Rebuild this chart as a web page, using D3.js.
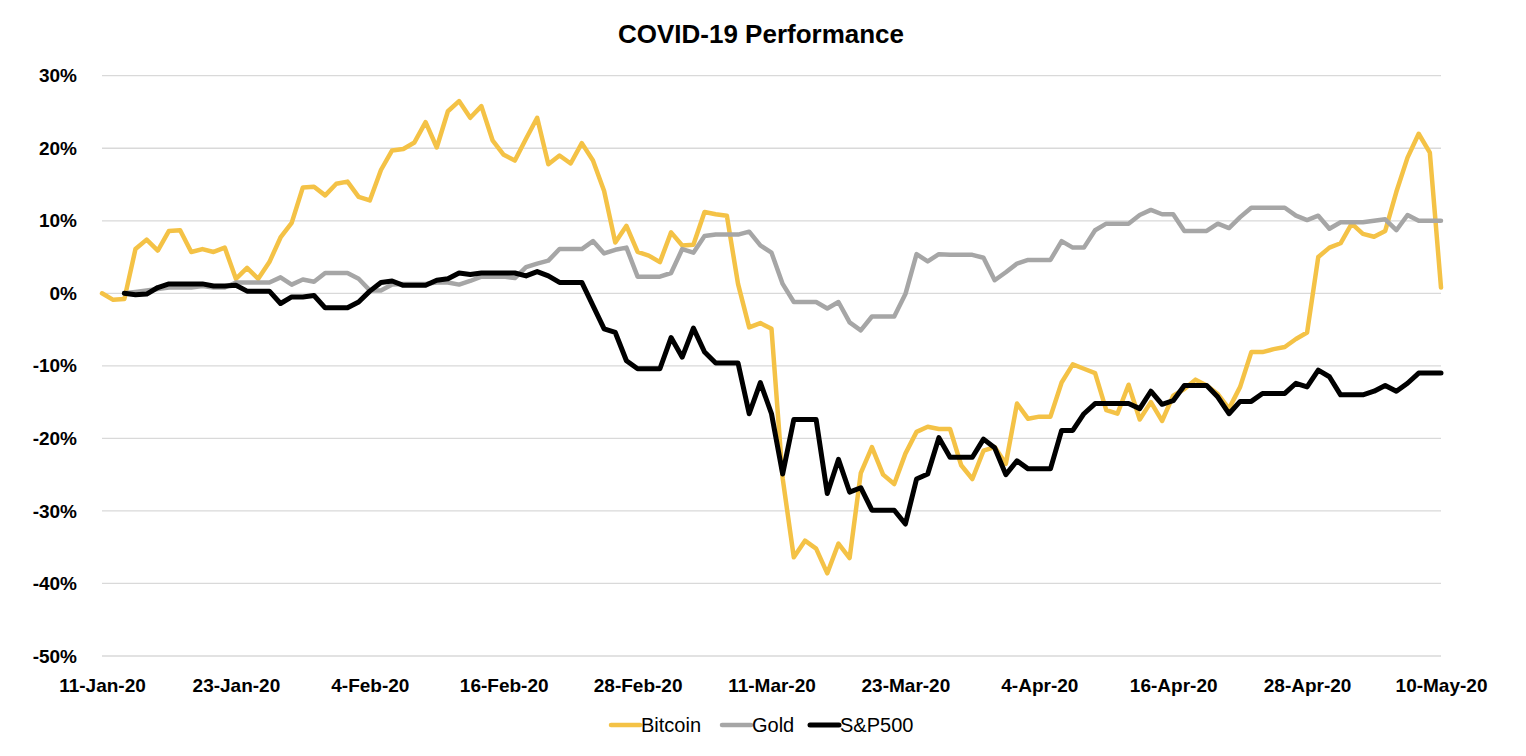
<!DOCTYPE html>
<html>
<head>
<meta charset="utf-8">
<script src="https://cdn.jsdelivr.net/npm/d3@7"></script>
<style>
  html, body { margin: 0; padding: 0; background: #fff; }
  svg { display: block; font-family: "Liberation Sans", Arial, sans-serif; }
</style>
</head>
<body>
<svg id="chart" width="1526" height="756"></svg>
<script>
// ---- Data ----
const startDate = "2020-01-11";
const dayCount = 121; // 11-Jan-20 .. 10-May-20, daily
const xTickIndex = [0, 12, 24, 36, 48, 60, 72, 84, 96, 108, 120];
const xTickLabels = ["11-Jan-20", "23-Jan-20", "4-Feb-20", "16-Feb-20", "28-Feb-20",
  "11-Mar-20", "23-Mar-20", "4-Apr-20", "16-Apr-20", "28-Apr-20", "10-May-20"];
const yTicks = [-50, -40, -30, -20, -10, 0, 10, 20, 30];
const seriesNames = ["Bitcoin", "Gold", "S&P500"];

// values in %
const bitcoin = [
  0, -0.9, -0.8, 6.1, 7.4, 5.9, 8.6, 8.7, 5.7, 6.1,
  5.7, 6.3, 2.0, 3.5, 2.0, 4.3, 7.7, 9.7, 14.6, 14.7,
  13.5, 15.1, 15.4, 13.3, 12.8, 17.0, 19.7, 19.9, 20.8, 23.6,
  20.1, 25.1, 26.5, 24.2, 25.8, 21.1, 19.1, 18.3, 21.3, 24.2,
  17.8, 19.0, 17.9, 20.7, 18.3, 14.1, 7.0, 9.3, 5.7, 5.2,
  4.3, 8.4, 6.6, 6.7, 11.2, 10.9, 10.7, 1.3, -4.7, -4.1,
  -4.9, -25.5, -36.4, -34.1, -35.2, -38.6, -34.5, -36.5, -24.8, -21.2,
  -25.0, -26.3, -22.1, -19.1, -18.4, -18.7, -18.7, -23.7, -25.6, -21.7,
  -21.2, -23.5, -15.2, -17.3, -17.0, -17.0, -12.3, -9.8, -10.4, -11.0,
  -16.1, -16.6, -12.6, -17.4, -15.0, -17.6, -14.1, -13.2, -11.9, -12.7,
  -13.9, -15.9, -12.9, -8.1, -8.1, -7.7, -7.4, -6.3, -5.4, 5.0,
  6.3, 6.9, 9.6, 8.2, 7.8, 8.6, 14.0, 18.7, 22.0, 19.4,
  0.8
];
const gold = [
  null, null, 0.0, 0.2, 0.4, 0.6, 0.8, 0.8, 0.8, 1.0,
  0.8, 0.8, 1.5, 1.5, 1.5, 1.5, 2.2, 1.2, 1.9, 1.6,
  2.8, 2.8, 2.8, 2.0, 0.4, 0.4, 1.2, 1.3, 1.3, 1.3,
  1.5, 1.5, 1.2, 1.7, 2.3, 2.3, 2.3, 2.1, 3.6, 4.1,
  4.5, 6.1, 6.1, 6.1, 7.2, 5.5, 6.0, 6.3, 2.3, 2.3,
  2.3, 2.8, 6.1, 5.6, 7.9, 8.1, 8.1, 8.1, 8.5, 6.6,
  5.6, 1.3, -1.2, -1.2, -1.2, -2.1, -1.2, -4.0, -5.1, -3.2,
  -3.2, -3.2, -0.1, 5.4, 4.4, 5.4, 5.3, 5.3, 5.3, 4.9,
  1.8, 2.9, 4.1, 4.6, 4.6, 4.6, 7.2, 6.3, 6.3, 8.7,
  9.6, 9.6, 9.6, 10.8, 11.5, 10.9, 10.9, 8.6, 8.6, 8.6,
  9.6, 9.0, 10.5, 11.8, 11.8, 11.8, 11.8, 10.7, 10.1, 10.7,
  8.9, 9.8, 9.8, 9.8, 10.0, 10.2, 8.7, 10.8, 10.0, 10.0,
  10.0
];
const sp500 = [
  null, null, 0.0, -0.2, -0.1, 0.8, 1.3, 1.3, 1.3, 1.3,
  1.0, 1.0, 1.1, 0.3, 0.3, 0.3, -1.4, -0.5, -0.5, -0.3,
  -2.0, -2.0, -2.0, -1.2, 0.3, 1.5, 1.7, 1.1, 1.1, 1.1,
  1.8, 2.0, 2.8, 2.6, 2.8, 2.8, 2.8, 2.8, 2.4, 3.0,
  2.4, 1.5, 1.5, 1.5, -1.7, -4.9, -5.4, -9.3, -10.4, -10.4,
  -10.4, -6.1, -8.8, -4.8, -8.1, -9.6, -9.6, -9.6, -16.6, -12.3,
  -16.6, -24.9, -17.4, -17.4, -17.4, -27.6, -22.9, -27.4, -26.8, -29.9,
  -29.9, -29.9, -31.8, -25.6, -24.9, -19.9, -22.6, -22.6, -22.6, -20.1,
  -21.3, -25.0, -23.1, -24.2, -24.2, -24.2, -18.9, -18.9, -16.6, -15.2,
  -15.2, -15.2, -15.2, -15.9, -13.5, -15.3, -14.8, -12.7, -12.7, -12.7,
  -14.3, -16.6, -14.9, -14.9, -13.8, -13.8, -13.8, -12.4, -12.9, -10.6,
  -11.5, -14.0, -14.0, -14.0, -13.5, -12.7, -13.5, -12.4, -11.0, -11.0,
  -11.0
];

// ---- Layout / styles ----
const colors = { "Bitcoin": "#F4C246", "Gold": "#A6A6A6", "S&P500": "#000000" };
const widths = { "Bitcoin": 4.5, "Gold": 4.5, "S&P500": 5 };
const plot = { left: 102, right: 1441, top: 75.7, bottom: 656 };

const svg = d3.select("#chart");

const x = d3.scaleLinear().domain([0, dayCount - 1]).range([plot.left, plot.right]);
const y = d3.scaleLinear().domain([-50, 30]).range([plot.bottom, plot.top]);

// gridlines
svg.append("g")
  .selectAll("line")
  .data(yTicks)
  .join("line")
  .attr("x1", plot.left).attr("x2", plot.right)
  .attr("y1", d => y(d)).attr("y2", d => y(d))
  .attr("stroke", "#D9D9D9").attr("stroke-width", 1.3);

// y axis
const yAxis = svg.append("g")
  .attr("transform", `translate(${plot.left},0)`)
  .call(d3.axisLeft(y).tickValues(yTicks).tickSize(0).tickPadding(25).tickFormat(d => d + "%"));
yAxis.select(".domain").remove();
yAxis.selectAll("text")
  .attr("font-family", "'Liberation Sans', Arial, sans-serif")
  .attr("font-size", 19).attr("font-weight", "bold").attr("fill", "#000");

// x axis
const xAxis = svg.append("g")
  .attr("transform", `translate(0,${plot.bottom})`)
  .call(d3.axisBottom(x).tickValues(xTickIndex).tickSize(0).tickPadding(23)
    .tickFormat((d, i) => xTickLabels[i]));
xAxis.select(".domain").remove();
xAxis.selectAll("text")
  .attr("font-family", "'Liberation Sans', Arial, sans-serif")
  .attr("font-size", 19).attr("font-weight", "bold").attr("fill", "#000");

// lines
const seriesData = { "Bitcoin": bitcoin, "Gold": gold, "S&P500": sp500 };
const line = d3.line()
  .defined(d => d.v !== null)
  .x(d => x(d.i))
  .y(d => y(d.v));

seriesNames.forEach(name => {
  const pts = seriesData[name].map((v, i) => ({ i, v }));
  svg.append("path")
    .datum(pts)
    .attr("d", line)
    .attr("fill", "none")
    .attr("stroke", colors[name])
    .attr("stroke-width", widths[name])
    .attr("stroke-linejoin", "round")
    .attr("stroke-linecap", "round");
});

// title
svg.append("text")
  .attr("x", 761).attr("y", 43)
  .attr("text-anchor", "middle")
  .attr("font-size", 26).attr("font-weight", "bold").attr("fill", "#000")
  .text("COVID-19 Performance");

// legend
const legendX = [611, 722, 810];
const leg = svg.append("g").attr("transform", "translate(0,725)");
seriesNames.forEach((name, k) => {
  const g = leg.append("g").attr("transform", `translate(${legendX[k]},0)`);
  g.append("line")
    .attr("x1", 0).attr("x2", 29).attr("y1", 0).attr("y2", 0)
    .attr("stroke", colors[name]).attr("stroke-width", widths[name])
    .attr("stroke-linecap", "round");
  g.append("text")
    .attr("x", 30).attr("y", 7)
    .attr("font-size", 20).attr("fill", "#000")
    .text(name);
});
</script>
</body>
</html>
